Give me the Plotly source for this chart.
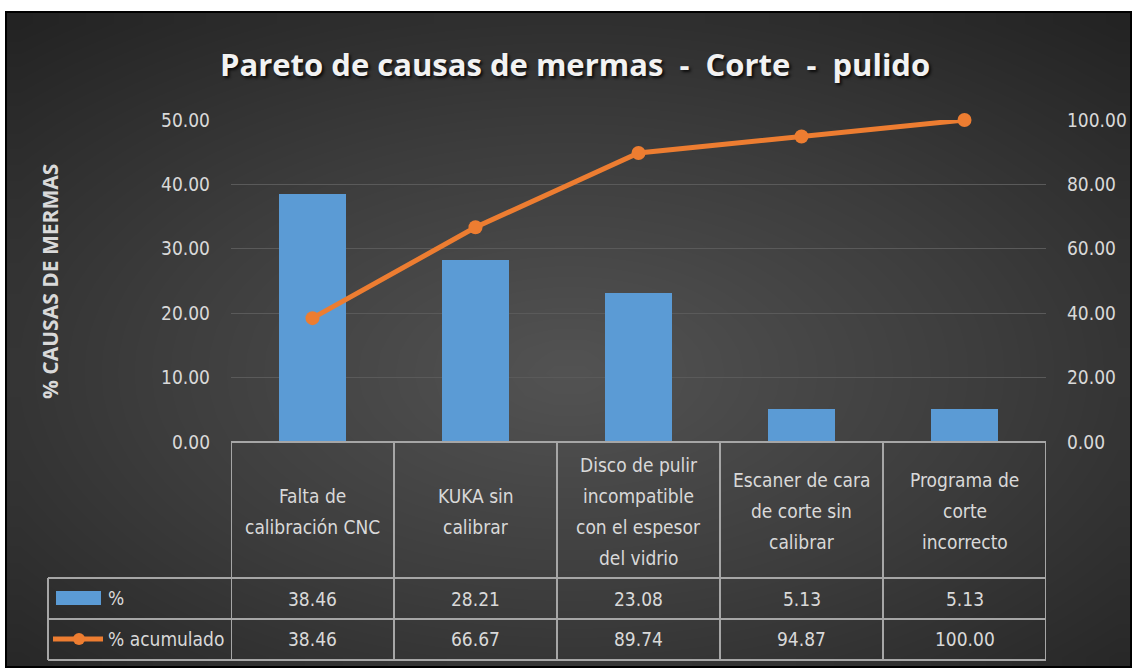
import numpy as np
import plotly.graph_objects as go

# figure size in px (matches the browser window)
W, H = 1132, 668

# --- data ---
categorias = [
    "Falta de<br>calibración CNC",
    "KUKA sin<br>calibrar",
    "Disco de pulir<br>incompatible<br>con el espesor<br>del vidrio",
    "Escaner de cara<br>de corte sin<br>calibrar",
    "Programa de<br>corte<br>incorrecto",
]
porcentaje = [38.46, 28.21, 23.08, 5.13, 5.13]
acumulado = [38.46, 66.67, 89.74, 94.87, 100.00]
ticks_izq = [0, 10, 20, 30, 40, 50]
ticks_der = [0, 20, 40, 60, 80, 100]

AZUL = "#5B9BD5"
NARANJA = "#ED7D31"
TXT = "#D9D9D9"
BORDE = "#A6A6A6"
NARROW = "Liberation Sans Narrow, DejaVu Sans Condensed, Liberation Sans, sans-serif"


def px(x):
    return x / W


def py(y):
    return 1 - y / H


# plot area in pixels
X0, X1, Y0, Y1 = 231, 1046, 120, 442

fig = go.Figure()

# background: soft radial gradient (style only)
gx = np.linspace(-1, 1, 40)
gy = np.linspace(-1, 1, 30)
GX, GY = np.meshgrid(gx, gy)
fondo = np.sqrt((GX * 0.95) ** 2 + ((GY + 0.1) * 1.0) ** 2)
fig.add_trace(go.Heatmap(
    z=fondo, x=gx, y=gy, xaxis="x", yaxis="y",
    colorscale=[[0, "#525252"], [0.5, "#3c3c3c"], [1, "#232323"]],
    zsmooth="best", showscale=False, hoverinfo="skip",
))

# bars
fig.add_trace(go.Bar(
    x=categorias, y=porcentaje, xaxis="x2", yaxis="y2",
    marker=dict(color=AZUL, line=dict(width=0)), width=0.405,
    name="%", hoverinfo="y",
))

# cumulative line
fig.add_trace(go.Scatter(
    x=categorias, y=acumulado, xaxis="x2", yaxis="y3",
    mode="lines+markers", name="% acumulado", cliponaxis=False,
    line=dict(color=NARANJA, width=5),
    marker=dict(color=NARANJA, size=14),
))

eje_y = dict(
    tickformat=".2f", ticks="", showline=False, zeroline=False, automargin=False,
    tickfont=dict(family=NARROW, size=19, color=TXT),
    ticklabelstandoff=20,
)

fig.update_layout(
    width=W, height=H,
    margin=dict(l=0, r=0, t=0, b=0, autoexpand=False),
    paper_bgcolor="white", plot_bgcolor="rgba(0,0,0,0)",
    showlegend=False, bargap=0,
    xaxis=dict(domain=[px(6), 1], visible=False, fixedrange=True, automargin=False),
    yaxis=dict(domain=[0, py(12)], visible=False, fixedrange=True, automargin=False),
    xaxis2=dict(domain=[px(X0), px(X1)], anchor="y2", range=[-0.5, 4.5], automargin=False,
                showticklabels=False, showgrid=False, zeroline=False, showline=False),
    yaxis2=dict(domain=[py(Y1), py(Y0)], anchor="x2", range=[0, 50],
                tickvals=ticks_izq, gridcolor="#5A5A5A", gridwidth=1, **eje_y),
    yaxis3=dict(domain=[py(Y1), py(Y0)], anchor="x2", overlaying="y2", side="right",
                range=[0, 100], tickvals=ticks_der, showgrid=False, **eje_y),
)

# title
fig.add_annotation(
    text="<b>Pareto de causas de mermas  -  Corte  -  pulido</b>",
    x=px(575), y=py(64), xref="paper", yref="paper", showarrow=False,
    xanchor="center", yanchor="middle",
    font=dict(family="Open Sans, sans-serif", size=31, color="#F2F2F2",
              shadow="2px 2px 3px rgba(0,0,0,0.8)"),
)

# y axis title
fig.add_annotation(
    text="<b>% CAUSAS DE MERMAS</b>",
    x=px(50), y=py(282), xref="paper", yref="paper", showarrow=False,
    textangle=-90, xanchor="center", yanchor="middle",
    font=dict(family="Open Sans, sans-serif", size=21, color=TXT),
)

# --- data table under the chart ---
ROW_TOP, ROW1, ROW2, ROW_END = 442, 578, 619, 660
LEFT = 48
linea = dict(color=BORDE, width=2)

fig.add_shape(type="line", xref="x2", yref="paper", x0=-0.5, x1=4.5,
              y0=py(ROW_TOP), y1=py(ROW_TOP), line=linea)
for i in range(len(categorias) + 1):
    fig.add_shape(type="line", xref="x2", yref="paper", x0=i - 0.5, x1=i - 0.5,
                  y0=py(ROW_TOP), y1=py(ROW_END), line=linea)
for yy in (ROW1, ROW2, ROW_END):
    fig.add_shape(type="line", xref="paper", yref="paper", x0=px(LEFT), x1=px(X1),
                  y0=py(yy), y1=py(yy), line=linea)
fig.add_shape(type="line", xref="paper", yref="paper", x0=px(LEFT), x1=px(LEFT),
              y0=py(ROW1), y1=py(ROW_END), line=linea)

celda = dict(family=NARROW, size=19, color=TXT)
for i, cat in enumerate(categorias):
    lineas = cat.split("<br>")
    n = len(lineas)
    for j, t in enumerate(lineas):
        yy = 511 + (j - (n - 1) / 2) * 31
        fig.add_annotation(text=t, x=i, y=py(yy), xref="x2", yref="paper",
                           showarrow=False, xanchor="center", yanchor="middle", font=celda)
    fig.add_annotation(text=f"{porcentaje[i]:.2f}", x=i, y=py(599), xref="x2", yref="paper",
                       showarrow=False, xanchor="center", yanchor="middle", font=celda)
    fig.add_annotation(text=f"{acumulado[i]:.2f}", x=i, y=py(639), xref="x2", yref="paper",
                       showarrow=False, xanchor="center", yanchor="middle", font=celda)

# legend keys inside the table
fig.add_shape(type="rect", xref="paper", yref="paper", x0=px(56), x1=px(101),
              y0=py(605), y1=py(591), fillcolor=AZUL, line=dict(width=0))
fig.add_shape(type="line", xref="paper", yref="paper", x0=px(53), x1=px(103),
              y0=py(639), y1=py(639), line=dict(color=NARANJA, width=5))
fig.add_shape(type="circle", xref="paper", yref="paper", x0=px(73), x1=px(85),
              y0=py(645), y1=py(633), fillcolor=NARANJA, line=dict(width=0))
fig.add_annotation(text="%", x=px(106), y=py(598), xref="paper", yref="paper",
                   showarrow=False, xanchor="left", yanchor="middle", font=celda)
fig.add_annotation(text="% acumulado", x=px(106), y=py(639), xref="paper", yref="paper",
                   showarrow=False, xanchor="left", yanchor="middle", font=celda)

# outer frame
fig.add_shape(type="rect", xref="paper", yref="paper", x0=px(6), x1=px(1131),
              y0=py(667), y1=py(12), line=dict(color="black", width=2),
              fillcolor="rgba(0,0,0,0)", layer="above")

# page has a default body margin; remove it so the figure sits at the corner
fig.write_html("out.html", config={"displayModeBar": False},
               post_script="document.body.style.margin='0';document.body.style.overflow='hidden';")
